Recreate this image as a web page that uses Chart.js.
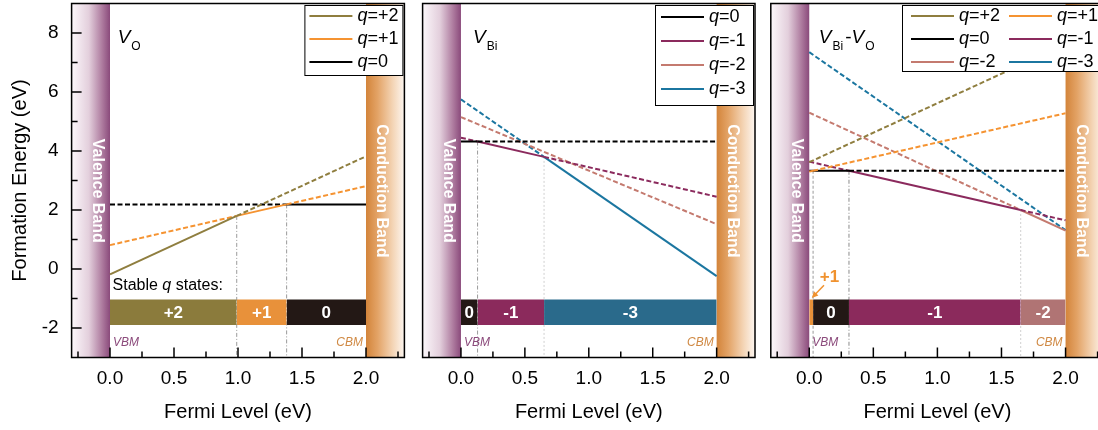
<!DOCTYPE html>
<html>
<head>
<meta charset="utf-8">
<title>Formation energy vs Fermi level</title>
<script src="https://cdn.jsdelivr.net/npm/chart.js@4.4.1/dist/chart.umd.min.js"></script>
<style>
  html, body { margin: 0; padding: 0; background: #fff; }
  body { width: 1098px; height: 430px; position: relative; overflow: hidden; }
  .panel { position: absolute; top: 0; height: 430px; }
</style>
</head>
<body>
<div class="panel" style="left:0;width:407px"><canvas id="vo"></canvas></div>
<div class="panel" style="left:412px;width:345px"><canvas id="vbi"></canvas></div>
<div class="panel" style="left:760px;width:346px"><canvas id="vbivo"></canvas></div>
<script>
// axis ticks (labels only on the half-eV / even-eV ones)
const fermiTicks = [-0.25, 0, 0.25, 0.5, 0.75, 1.0, 1.25, 1.5, 1.75, 2.0, 2.25];
const energyTicks = [-2, -1, 0, 1, 2, 3, 4, 5, 6, 7, 8];

// V_O panel
const voCharges = ['+2', '+1', '0'];
const voLines = [
    [[0, -0.18], [0.99, 1.80], [2.0, 3.82]],
    [[0, 0.81], [0.99, 1.80], [1.38, 2.19], [2.0, 2.81]],
    [[0, 2.19], [1.38, 2.19], [2.0, 2.19]]
];
const voStable = ['+2', '+1', '0'];
const voEdges = [0, 0.99, 1.38, 2.0];
const voEdgeTops = [1.80, 2.19];

// V_Bi panel
const vbiCharges = ['0', '-1', '-2', '-3'];
const vbiLines = [
    [[0, 4.32], [0.13, 4.32], [2.0, 4.32]],
    [[0, 4.45], [0.13, 4.32], [0.65, 3.80], [2.0, 2.45]],
    [[0, 5.15], [2.0, 1.52]],
    [[0, 5.75], [0.65, 3.80], [2.0, -0.24]]
];
const vbiStable = ['0', '-1', '-3'];
const vbiEdges = [0, 0.13, 0.65, 2.0];
const vbiEdgeTops = [4.32, 3.80];

// V_Bi - V_O panel
const pairCharges = ['+2', '+1', '0', '-1', '-2', '-3'];
const pairLines = [
    [[0, 3.62], [2.0, 7.62]],
    [[0, 3.30], [0.03, 3.33], [2.0, 5.28]],
    [[0, 3.33], [0.03, 3.33], [0.31, 3.33], [2.0, 3.33]],
    [[0, 3.64], [0.31, 3.33], [1.65, 2.00], [2.0, 1.65]],
    [[0, 5.30], [1.65, 2.00], [2.0, 1.30]],
    [[0, 7.35], [2.0, 1.32]]
];
const pairStable = ['+1', '0', '-1', '-2'];
const pairEdges = [0, 0.03, 0.31, 1.65, 2.0];
const pairEdgeTops = [3.33, 3.33, 2.00];

const lineColor = {'+2': '#8f7e3f', '+1': '#f59331', '0': '#000000', '-1': '#8b2a5d', '-2': '#c47a6f', '-3': '#1b76a0'};
const barColor = {'+2': '#8b7b3c', '+1': '#e8913a', '0': '#231815', '-1': '#8b2a5c', '-2': '#b07474', '-3': '#2a6a8b'};

const FONT = '"Liberation Sans", Arial, sans-serif';
const DASH = [5, 2.5];
const BAR_TOP = -1.03, BAR_BOT = -1.9;

function font(size, style, weight) {
    return (style || 'normal') + ' ' + (weight || 'normal') + ' ' + size + 'px ' + FONT;
}

function drawParts(ctx, parts, x, y) {
    parts.forEach(p => {
        ctx.font = p.font;
        x += p.dx || 0;
        ctx.fillText(p.t, x, y + (p.dy || 0));
        x += ctx.measureText(p.t).width;
    });
}

const V = {t: 'V', font: font(19, 'italic')};
const sub = t => ({t: t, font: font(12), dy: 6.5, dx: 1});

function makePanel(id, p) {
    const datasets = [];
    // formation energy lines, solid where the charge state is stable
    p.charges.forEach((q, k) => {
        const s = p.stable.indexOf(q);
        datasets.push({
            data: p.lines[k].map(([x, y]) => ({x, y})),
            borderColor: lineColor[q], borderWidth: 2, pointRadius: 0, fill: false, order: 1,
            segment: {
                borderDash: c => (s >= 0 && c.p0.parsed.x >= p.edges[s] - 1e-6 && c.p1.parsed.x <= p.edges[s + 1] + 1e-6) ? [] : DASH
            }
        });
    });
    // stable q bars
    p.stable.forEach((q, k) => {
        datasets.push({
            data: [{x: p.edges[k], y: BAR_TOP}, {x: p.edges[k + 1], y: BAR_TOP}],
            borderWidth: 0, borderColor: 'rgba(0,0,0,0)', pointRadius: 0,
            backgroundColor: barColor[q], fill: {value: BAR_BOT}, order: 2
        });
    });
    // transition level guides
    p.edgeTops.forEach((top, k) => {
        const x = p.edges[k + 1];
        datasets.push({
            data: [{x, y: top}, {x, y: -3}],
            borderColor: p.guides[k].color, borderWidth: 1, borderDash: p.guides[k].dash,
            pointRadius: 0, fill: false, order: 3
        });
    });

    const decor = {
        id: 'decor',
        beforeDatasetsDraw(chart) {
            const {ctx, chartArea: a, scales: {x, y}} = chart;
            const x0 = x.getPixelForValue(0), x2 = x.getPixelForValue(2);
            ctx.save();
            let g = ctx.createLinearGradient(a.left, 0, x0, 0);
            g.addColorStop(0, '#fcf8fb');
            g.addColorStop(0.45, '#e3cfdc');
            g.addColorStop(0.8, '#ad7a9e');
            g.addColorStop(1, '#8a4a7b');
            ctx.fillStyle = g;
            ctx.fillRect(a.left, a.top, x0 - a.left, a.bottom - a.top);
            g = ctx.createLinearGradient(x2, 0, a.right, 0);
            g.addColorStop(0, '#d3843a');
            g.addColorStop(0.3, '#e3a366');
            g.addColorStop(0.7, '#f4d5b6');
            g.addColorStop(1, '#fdf6f0');
            ctx.fillStyle = g;
            ctx.fillRect(x2, a.top, a.right - x2, a.bottom - a.top);

            ctx.fillStyle = '#fff';
            ctx.font = font(16, 'normal', 'bold');
            ctx.textAlign = 'center';
            ctx.textBaseline = 'middle';
            [['Valence Band', -0.1], ['Conduction Band', 2.12]].forEach(([t, v]) => {
                ctx.save();
                ctx.translate(x.getPixelForValue(v), y.getPixelForValue(2.65));
                ctx.rotate(Math.PI / 2);
                ctx.fillText(t, 0, 0);
                ctx.restore();
            });
            ctx.restore();
        },
        afterDatasetsDraw(chart) {
            const {ctx, chartArea: a, scales: {x, y}} = chart;
            ctx.save();
            // bar labels
            ctx.font = font(17, 'normal', 'bold');
            ctx.fillStyle = '#fff';
            ctx.textAlign = 'center';
            ctx.textBaseline = 'middle';
            p.stable.forEach((q, k) => {
                if (p.edges[k + 1] - p.edges[k] < 0.08) return;
                ctx.fillText(q, x.getPixelForValue((p.edges[k] + p.edges[k + 1]) / 2), y.getPixelForValue((BAR_TOP + BAR_BOT) / 2) + 1);
            });
            if (p.callout) {
                const c = p.callout;
                ctx.fillStyle = c.color;
                ctx.strokeStyle = c.color;
                ctx.fillText(c.text, x.getPixelForValue(c.at[0]), y.getPixelForValue(c.at[1]));
                const tx = x.getPixelForValue(c.from[0]), ty = y.getPixelForValue(c.from[1]);
                const hx = x.getPixelForValue(c.to[0]), hy = y.getPixelForValue(c.to[1]);
                const ang = Math.atan2(hy - ty, hx - tx);
                ctx.lineWidth = 1.5;
                ctx.beginPath();
                ctx.moveTo(tx, ty);
                ctx.lineTo(hx - 4 * Math.cos(ang), hy - 4 * Math.sin(ang));
                ctx.stroke();
                ctx.beginPath();
                ctx.moveTo(hx, hy);
                ctx.lineTo(hx - 7 * Math.cos(ang - 0.45), hy - 7 * Math.sin(ang - 0.45));
                ctx.lineTo(hx - 7 * Math.cos(ang + 0.45), hy - 7 * Math.sin(ang + 0.45));
                ctx.closePath();
                ctx.fill();
            }
            // VBM / CBM
            ctx.font = font(12, 'italic');
            ctx.textBaseline = 'middle';
            ctx.textAlign = 'left';
            ctx.fillStyle = '#8b4a7b';
            ctx.fillText('VBM', x.getPixelForValue(0) + 3, y.getPixelForValue(-2.5));
            ctx.textAlign = 'right';
            ctx.fillStyle = '#d08a45';
            ctx.fillText('CBM', x.getPixelForValue(2) - 3, y.getPixelForValue(-2.5));

            ctx.textAlign = 'left';
            ctx.textBaseline = 'alphabetic';
            ctx.fillStyle = '#000';
            if (p.stableText) {
                drawParts(ctx, [{t: 'Stable ', font: font(16)}, {t: 'q', font: font(16, 'italic')}, {t: ' states:', font: font(16)}],
                    x.getPixelForValue(0.02), y.getPixelForValue(-0.72));
            }
            drawParts(ctx, p.title, x.getPixelForValue(p.titleX), y.getPixelForValue(7.65));

            // inward ticks
            ctx.strokeStyle = '#000';
            ctx.lineWidth = 1.5;
            x.ticks.forEach(t => {
                const px = x.getPixelForValue(t.value);
                ctx.beginPath();
                ctx.moveTo(px, a.bottom);
                ctx.lineTo(px, a.bottom - (t.label ? 10 : 6));
                ctx.stroke();
            });
            if (p.showY) {
                y.ticks.forEach(t => {
                    const py = y.getPixelForValue(t.value);
                    ctx.beginPath();
                    ctx.moveTo(a.left, py);
                    ctx.lineTo(a.left + (t.label ? 10 : 6), py);
                    ctx.stroke();
                });
            }

            // legend
            const L = p.legend;
            const bx = a.right - 1 - L.w, by = a.top + 1.5;
            ctx.fillStyle = '#fff';
            ctx.fillRect(bx, by, L.w, L.h);
            ctx.lineWidth = 1;
            ctx.strokeStyle = '#000';
            ctx.strokeRect(bx + 0.5, by + 0.5, L.w - 1, L.h - 1);
            ctx.textBaseline = 'middle';
            p.charges.forEach((q, k) => {
                const cx = bx + (k % L.cols) * L.colW + L.pad;
                const cy = by + L.first + Math.floor(k / L.cols) * L.rowH;
                ctx.strokeStyle = lineColor[q];
                ctx.lineWidth = 2;
                ctx.beginPath();
                ctx.moveTo(cx, cy);
                ctx.lineTo(cx + 43, cy);
                ctx.stroke();
                ctx.fillStyle = '#000';
                drawParts(ctx, [{t: 'q', font: font(18, 'italic')}, {t: '=' + q, font: font(18)}], cx + 48, cy);
            });

            // frame
            ctx.strokeStyle = '#000';
            ctx.lineWidth = 1.5;
            ctx.strokeRect(a.left, a.top, a.right - a.left, a.bottom - a.top);
            ctx.restore();
        }
    };

    new Chart(document.getElementById(id), {
        type: 'line',
        data: {datasets},
        options: {
            responsive: true,
            maintainAspectRatio: false,
            animation: false,
            events: [],
            layout: {padding: {left: p.padLeft, right: p.padRight, top: 3.5, bottom: 0}},
            plugins: {legend: {display: false}, tooltip: {enabled: false}},
            scales: {
                x: {
                    type: 'linear', min: -0.3, max: 2.3, bounds: 'data',
                    afterBuildTicks: s => { s.ticks = fermiTicks.map(v => ({value: v})); },
                    afterFit: s => { s.height = 72.5; s.paddingLeft = 0; s.paddingRight = 0; },
                    grid: {display: false, drawTicks: false},
                    border: {display: false},
                    ticks: {
                        autoSkip: false, maxRotation: 0, padding: 10, color: '#000',
                        font: {family: FONT, size: 19},
                        callback: v => (v >= 0 && v <= 2 && Math.abs(v * 2 - Math.round(v * 2)) < 1e-6) ? v.toFixed(1) : ''
                    },
                    title: {
                        display: true, text: 'Fermi Level (eV)', color: '#000',
                        font: {family: FONT, size: 20}, padding: {top: 0, bottom: 6}
                    }
                },
                y: {
                    type: 'linear', min: -3, max: 9, bounds: 'data', display: p.showY,
                    afterBuildTicks: s => { s.ticks = energyTicks.map(v => ({value: v})); },
                    afterFit: s => {
                        s.width = p.showY ? 71.6 : 0;
                        s.paddingTop = 0;
                        s.paddingBottom = 0;
                    },
                    grid: {display: false, drawTicks: false},
                    border: {display: false},
                    ticks: {
                        autoSkip: false, padding: 13, color: '#000',
                        font: {family: FONT, size: 19},
                        callback: v => v % 2 === 0 ? String(v) : ''
                    },
                    title: {
                        display: true, text: 'Formation Energy (eV)', color: '#000',
                        font: {family: FONT, size: 20}, padding: {top: 8, bottom: 0}
                    }
                }
            }
        },
        plugins: [decor]
    });
}

const dashDot = [4, 2, 1, 2];

makePanel('vo', {
    charges: voCharges, lines: voLines, stable: voStable, edges: voEdges, edgeTops: voEdgeTops,
    guides: [{color: '#9a9a9a', dash: dashDot}, {color: '#9a9a9a', dash: dashDot}],
    showY: true, padLeft: 0, padRight: 2.6, stableText: true,
    title: [V, sub('O')], titleX: 0.06,
    legend: {cols: 1, colW: 99, w: 99, h: 71, first: 11, rowH: 23, pad: 5}
});

makePanel('vbi', {
    charges: vbiCharges, lines: vbiLines, stable: vbiStable, edges: vbiEdges, edgeTops: vbiEdgeTops,
    guides: [{color: '#9a9a9a', dash: dashDot}, {color: '#d0d0d0', dash: [2, 2]}],
    showY: false, padLeft: 10.6, padRight: 2, stableText: false,
    title: [V, sub('Bi')], titleX: 0.094,
    legend: {cols: 1, colW: 99, w: 99, h: 101, first: 12, rowH: 24, pad: 6}
});

makePanel('vbivo', {
    charges: pairCharges, lines: pairLines, stable: pairStable, edges: pairEdges, edgeTops: pairEdgeTops,
    guides: [{color: '#9a9a9a', dash: [3, 2]}, {color: '#8a8a8a', dash: dashDot}, {color: '#d0d0d0', dash: [2, 2]}],
    showY: false, padLeft: 10.8, padRight: 2, stableText: false,
    title: [V, sub('Bi'), {t: '-', font: font(19), dx: 2}, V, sub('O')], titleX: 0.075,
    legend: {cols: 2, colW: 98, w: 201, h: 67, first: 11, rowH: 23, pad: 9},
    callout: {text: '+1', color: '#f0922f', at: [0.158, -0.29], from: [0.115, -0.55], to: [0.02, -0.98]}
});
</script>
</body>
</html>
